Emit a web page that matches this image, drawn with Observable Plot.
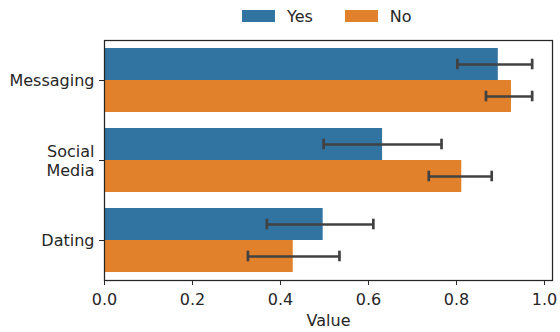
<!DOCTYPE html>
<html><head><meta charset="utf-8">
<script src="https://cdn.jsdelivr.net/npm/d3@7"></script>
<script src="https://cdn.jsdelivr.net/npm/@observablehq/plot@0.6"></script>
<style>
html,body{margin:0;padding:0;background:#fff;}
#chart{width:560px;height:332px;font-family:"DejaVu Sans";}
#leg{height:32px;overflow:hidden;}
#leg > div{height:32px;min-height:32px !important;margin:0 !important;padding-left:242px;display:flex;align-items:center;font-family:"DejaVu Sans" !important;font-size:16px !important;color:#262626;}
#leg span{margin-right:32px !important;}
#leg svg{margin-right:12px !important;}
#plot svg{display:block;}
</style>
</head><body>
<div id="chart"><div id="leg"></div><div id="plot"></div></div>
<script>
const categories = ["Messaging", "Social Media", "Dating"];
const responses = ["Yes", "No"];
const colors = ["#3274a1", "#e1812c"];
const yesValues = [0.895, 0.632, 0.497];
const yesLow = [0.802, 0.498, 0.369];
const yesHigh = [0.972, 0.766, 0.611];
const noValues = [0.925, 0.812, 0.429];
const noLow = [0.867, 0.737, 0.326];
const noHigh = [0.972, 0.880, 0.534];
const xTicks = [0, 0.2, 0.4, 0.6, 0.8, 1.0];

const yes = categories.map((c, i) => ({category: c, response: "Yes", value: yesValues[i], low: yesLow[i], high: yesHigh[i]}));
const no = categories.map((c, i) => ({category: c, response: "No", value: noValues[i], low: noLow[i], high: noHigh[i]}));

const err = {stroke: "#424242", strokeWidth: 2.7};

const plot = Plot.plot({
  width: 560, height: 300,
  marginTop: 8, marginBottom: 52, marginLeft: 104, marginRight: 8,
  style: {fontFamily: "DejaVu Sans", fontSize: "16px", color: "#262626", background: "white", overflow: "visible"},
  x: {domain: [0, 1.0182], label: null, labelArrow: false},
  y: {domain: categories, paddingInner: 0.2, paddingOuter: 0.1, label: null},
  color: {domain: responses, range: colors},
  marks: [
    Plot.barX(yes, {x: "value", y: "category", fill: "response", insetBottom: 32}),
    Plot.barX(no, {x: "value", y: "category", fill: "response", insetTop: 32}),
    Plot.ruleY(yes, {y: "category", x1: "low", x2: "high", dy: -16, ...err}),
    Plot.ruleY(no, {y: "category", x1: "low", x2: "high", dy: 16, ...err}),
    Plot.tickX(yes, {x: "low", y: "category", insetTop: 10.7, insetBottom: 42.7, ...err}),
    Plot.tickX(yes, {x: "high", y: "category", insetTop: 10.7, insetBottom: 42.7, ...err}),
    Plot.tickX(no, {x: "low", y: "category", insetTop: 42.7, insetBottom: 10.7, ...err}),
    Plot.tickX(no, {x: "high", y: "category", insetTop: 42.7, insetBottom: 10.7, ...err}),
    Plot.axisX({ticks: xTicks, tickFormat: d3.format(".1f"), tickSize: 5, tickPadding: 8, label: "Value", labelArrow: false, labelAnchor: "center", labelOffset: 45}),
    Plot.axisY({tickSize: 5, tickPadding: 5, tickFormat: d => d.replace(" ", "\n"), lineHeight: 1.15, label: null}),
    Plot.frame({stroke: "#262626", strokeWidth: 1.25})
  ]
});
document.getElementById("plot").appendChild(plot);

const leg = Plot.legend({color: {domain: responses, range: colors}, swatchWidth: 33, swatchHeight: 12});
document.getElementById("leg").appendChild(leg);
</script>
</body></html>
